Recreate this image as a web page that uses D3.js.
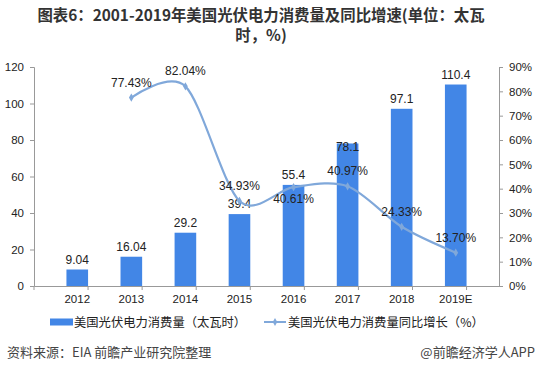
<!DOCTYPE html>
<html>
<head>
<meta charset="utf-8">
<script src="https://cdn.jsdelivr.net/npm/d3@7"></script>
<style>
  body { margin: 0; background: #fff; }
  svg { font-family: "Noto Sans CJK SC", "Noto Sans", sans-serif; }
</style>
</head>
<body>
<div id="chart"></div>
<script>
// data
const years = ["2012", "2013", "2014", "2015", "2016", "2017", "2018", "2019E"]
const consumption = [9.04, 16.04, 29.2, 39.4, 55.4, 78.1, 97.1, 110.4]
const growth = [null, 77.43, 82.04, 34.93, 40.61, 40.97, 24.33, 13.70]
const leftTicks = [0, 20, 40, 60, 80, 100, 120]
const rightTicks = [0, 10, 20, 30, 40, 50, 60, 70, 80, 90]

let width = 539, height = 377
let margin = {top: 67, left: 34, right: 40, bottom: 91}
let w = width - margin.left - margin.right
let h = height - margin.top - margin.bottom

let svg = d3.select("#chart").append("svg")
  .attr("width", width)
  .attr("height", height)

// title
let title = svg.append("text")
  .attr("text-anchor", "middle")
  .attr("font-size", 15.4)
  .attr("font-weight", "bold")
  .attr("fill", "#333")
title.append("tspan").attr("x", 261).attr("y", 21)
  .text("图表6：2001-2019年美国光伏电力消费量及同比增速(单位：太瓦")
title.append("tspan").attr("x", 261).attr("y", 41).text("时，%)")

let g = svg.append("g").attr("transform", "translate(" + margin.left + "," + margin.top + ")")

let x = d3.scaleBand().domain(years).range([0, w]).padding(0.6)
let y = d3.scaleLinear().domain([0, 120]).range([h, 0])
let y2 = d3.scaleLinear().domain([0, 90]).range([h, 0])

// axes
let axisColor = "#999"
let leftAxis = g.append("g")
  .call(d3.axisLeft(y).tickValues(leftTicks).tickSize(4).tickPadding(6))
let rightAxis = g.append("g")
  .attr("transform", "translate(" + w + ",0)")
  .call(d3.axisRight(y2).tickValues(rightTicks).tickSize(4).tickPadding(6).tickFormat(d => d + "%"))
let bottomAxis = g.append("g")
  .attr("transform", "translate(0," + h + ")")
  .call(d3.axisBottom(x).tickSize(0).tickPadding(9))

// category separator ticks below baseline
let step = x.step()
bottomAxis.selectAll(".sep")
  .data(d3.range(years.length + 1))
  .enter().append("line")
  .attr("x1", i => i * step).attr("x2", i => i * step)
  .attr("y1", 0).attr("y2", 4)
  .attr("stroke", axisColor)

;[leftAxis, rightAxis, bottomAxis].forEach(a => {
  a.selectAll("path, line").attr("stroke", axisColor)
  a.selectAll("text").attr("fill", "#222").attr("font-size", 11.5)
    .attr("font-family", "'Liberation Sans', Arial, sans-serif")
})

// bars
let barColor = "#4286e6"
g.selectAll(".bar")
  .data(consumption)
  .enter().append("rect")
  .attr("class", "bar")
  .attr("x", (d, i) => x(years[i]))
  .attr("y", d => y(d))
  .attr("width", x.bandwidth())
  .attr("height", d => h - y(d))
  .attr("fill", barColor)

g.selectAll(".barlabel")
  .data(consumption)
  .enter().append("text")
  .attr("x", (d, i) => x(years[i]) + x.bandwidth() / 2)
  .attr("y", (d, i) => i == 5 ? y(d) + 8 : y(d) - 6)
  .attr("text-anchor", "middle")
  .attr("font-size", 12)
  .attr("font-family", "'Liberation Sans', Arial, sans-serif")
  .attr("fill", "#222")
  .text(d => d)

// growth line
let lineColor = "#80a8da"
let pts = growth.map((v, i) => ({year: years[i], v: v})).filter(d => d.v != null)
let line = d3.line()
  .curve(d3.curveCardinal.tension(0.1))
  .x(d => x(d.year) + x.bandwidth() / 2)
  .y(d => y2(d.v))

g.append("path")
  .datum(pts)
  .attr("d", line)
  .attr("fill", "none")
  .attr("stroke", lineColor)
  .attr("stroke-width", 2.2)

g.selectAll(".marker")
  .data(pts)
  .enter().append("path")
  .attr("d", d3.symbol(d3.symbolDiamond, 20))
  .attr("transform", d => "translate(" + (x(d.year) + x.bandwidth() / 2) + "," + y2(d.v) + ")")
  .attr("fill", lineColor)

// label placement: below for 2016, above otherwise
g.selectAll(".pctlabel")
  .data(pts)
  .enter().append("text")
  .attr("x", d => x(d.year) + x.bandwidth() / 2)
  .attr("y", d => d.year == "2016" ? y2(d.v) + 16 : y2(d.v) - 11)
  .attr("text-anchor", "middle")
  .attr("font-size", 12)
  .attr("font-family", "'Liberation Sans', Arial, sans-serif")
  .attr("fill", "#222")
  .text(d => d.v.toFixed(2) + "%")

// legend
let legend = svg.append("g").attr("transform", "translate(0,322)")
legend.append("rect").attr("x", 50).attr("y", -3.5).attr("width", 23).attr("height", 7).attr("fill", barColor)
legend.append("text").attr("x", 74).attr("y", 4.5).attr("font-size", 12.3).attr("fill", "#222")
  .text("美国光伏电力消费量（太瓦时）")
legend.append("line").attr("x1", 264).attr("x2", 286).attr("y1", 0).attr("y2", 0)
  .attr("stroke", lineColor).attr("stroke-width", 2)
legend.append("path").attr("d", d3.symbol(d3.symbolDiamond, 18)).attr("transform", "translate(275,0)").attr("fill", lineColor)
legend.append("text").attr("x", 288).attr("y", 4.5).attr("font-size", 12.3).attr("fill", "#222")
  .text("美国光伏电力消费量同比增长（%）")

// footer
svg.append("text").attr("x", 7).attr("y", 357).attr("font-size", 13).attr("fill", "#444")
  .text("资料来源：EIA 前瞻产业研究院整理")
svg.append("text").attr("x", 535).attr("y", 357).attr("text-anchor", "end").attr("font-size", 13).attr("fill", "#444")
  .text("@前瞻经济学人APP")
</script>
</body>
</html>
